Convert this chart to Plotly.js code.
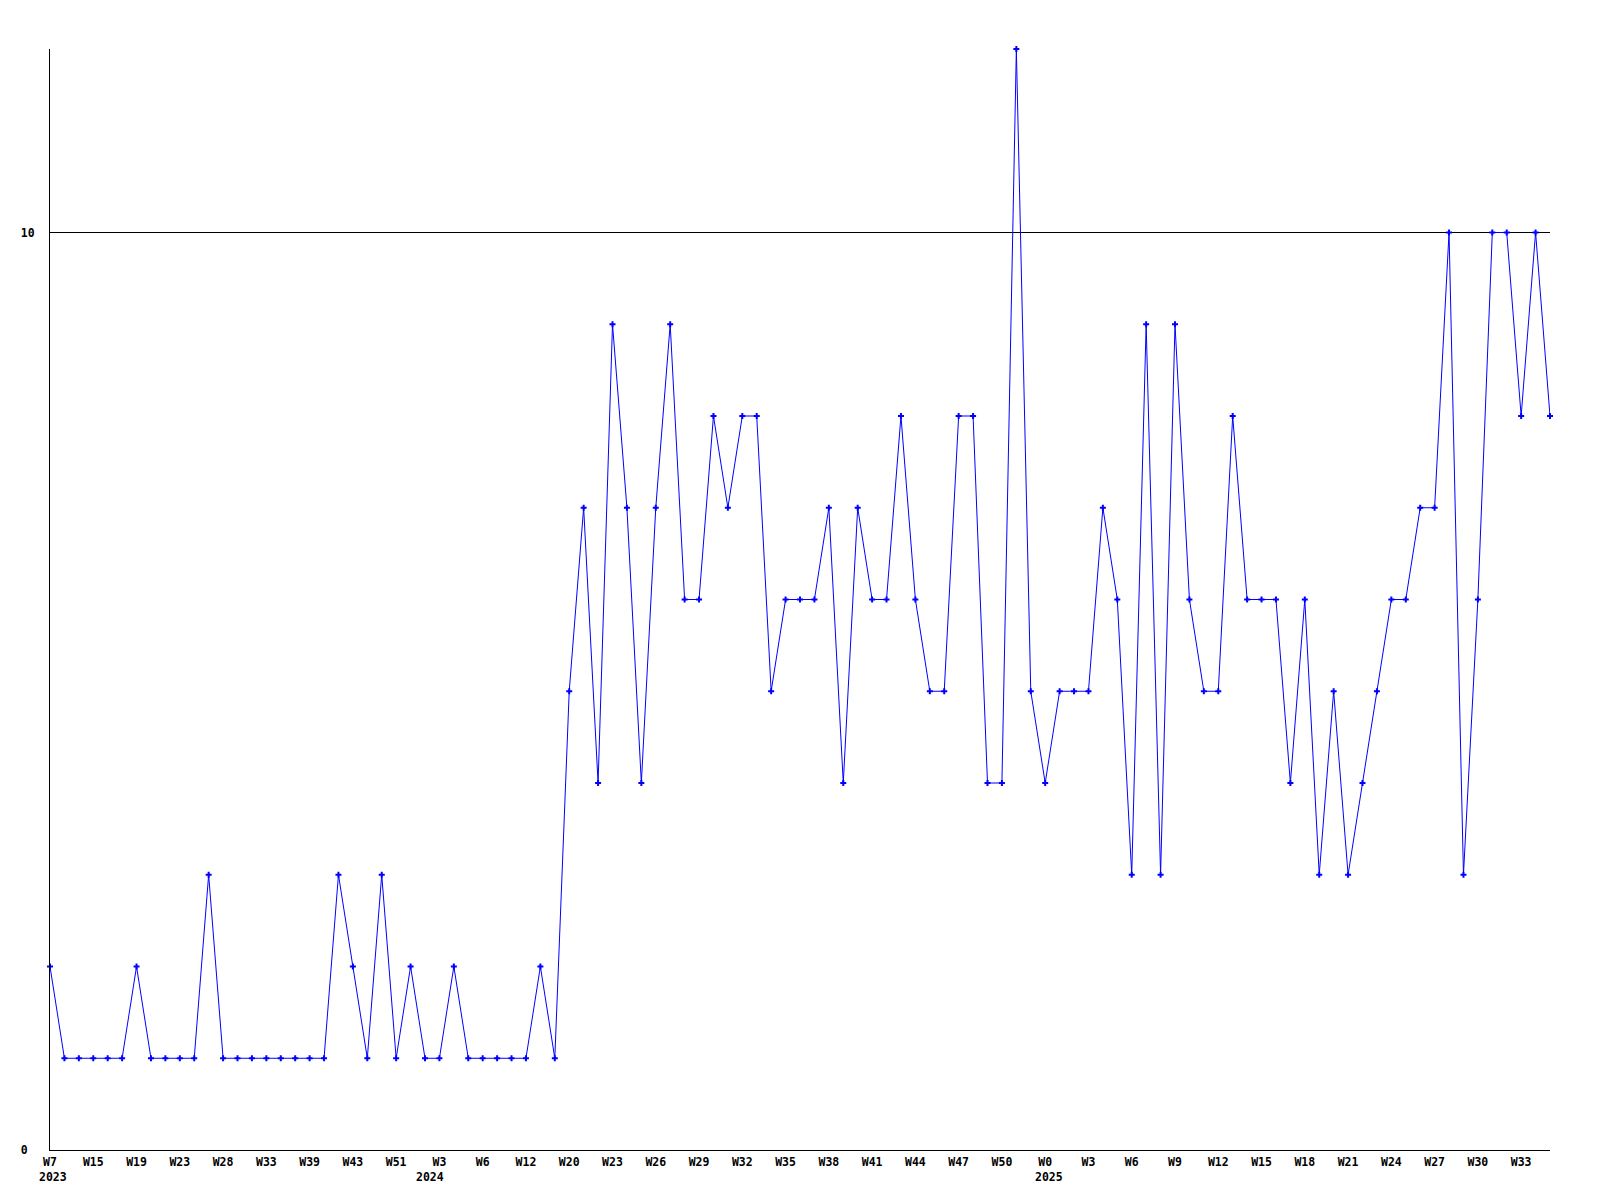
<!DOCTYPE html>
<html>
<head>
<meta charset="utf-8">
<script src="https://cdn.plot.ly/plotly-3.0.1.min.js"></script>
<style>
  html, body { margin: 0; padding: 0; background: #ffffff; }
  #chart { width: 1600px; height: 1200px; }
</style>
</head>
<body>
<div id="chart"></div>
<script>
// ---- data ----
const weeks2023 = [7, 9, 12, 15, 16, 17, 19, 20, 21, 23, 25, 26, 28, 29, 31, 33, 35, 37, 39, 40, 41, 43, 45, 48, 51, 52];
const weeks2024 = [1, 3, 4, 5, 6, 8, 10, 12, 14, 17, 20, 21, 22, 23, 24, 25, 26, 27, 28, 29, 30, 31, 32, 33, 34, 35, 36, 37, 38, 39, 40, 41, 42, 43, 44, 45, 46, 47, 48, 49, 50, 51, 52];
const weeks2025 = [0, 1, 2, 3, 4, 5, 6, 7, 8, 9, 10, 11, 12, 13, 14, 15, 16, 17, 18, 19, 20, 21, 22, 23, 24, 25, 26, 27, 28, 29, 30, 31, 32, 33, 34, 35];

const values2023 = [2, 1, 1, 1, 1, 1, 2, 1, 1, 1, 1, 3, 1, 1, 1, 1, 1, 1, 1, 1, 3, 2, 1, 3, 1, 2];
const values2024 = [1, 1, 2, 1, 1, 1, 1, 1, 2, 1, 5, 7, 4, 9, 7, 4, 7, 9, 6, 6, 8, 7, 8, 8, 5, 6, 6, 6, 7, 4, 7, 6, 6, 8, 6, 5, 5, 8, 8, 4, 4, 12, 5];
const values2025 = [4, 5, 5, 5, 7, 6, 3, 9, 3, 9, 6, 5, 5, 8, 6, 6, 6, 4, 6, 3, 5, 3, 4, 5, 6, 6, 7, 7, 10, 3, 6, 10, 10, 8, 10, 8];

const yTickValues = [0, 10];
const yTickLabels = ['0\u00a0', '10'];
const tickEvery = 3;

// ---- build series ----
const years = [], weeks = [], values = [];
[[2023, weeks2023, values2023], [2024, weeks2024, values2024], [2025, weeks2025, values2025]].forEach(([yr, wk, vals]) => {
  wk.forEach((w, i) => { years.push(yr); weeks.push(w); values.push(vals[i]); });
});
const cats = weeks.map((w, i) => years[i] + '-W' + w);

const tickvals = [], ticktext = [];
const yearFirstTick = {};
cats.forEach((c, i) => {
  if (i % tickEvery === 0) {
    tickvals.push(c);
    ticktext.push('W' + weeks[i]);
    if (!(years[i] in yearFirstTick)) yearFirstTick[years[i]] = c;
  }
});

const yearAnchor = {2023: 'left', 2024: 'right', 2025: 'left'};
const yearShift = {2023: -13, 2024: 7, 2025: -12};
const labelFont = {family: 'DejaVu Sans Mono', size: 11.5, color: '#000000', weight: 'bold'};

const annotations = Object.keys(yearFirstTick).map(yr => ({
  x: yearFirstTick[yr], xref: 'x',
  y: 0, yref: 'paper', yanchor: 'top',
  xanchor: yearAnchor[yr],
  xshift: yearShift[yr],
  yshift: -18,
  text: String(yr), showarrow: false,
  font: labelFont
}));

const trace = {
  x: cats, y: values,
  type: 'scatter', mode: 'lines+markers',
  line: {color: '#0000ff', width: 1},
  marker: {symbol: 'cross', size: 5, color: '#0000ff', line: {width: 0}},
  cliponaxis: false,
  hoverinfo: 'skip'
};

const layout = {
  width: 1600, height: 1200,
  margin: {l: 50, r: 50, t: 49, b: 50, pad: 0},
  paper_bgcolor: '#ffffff', plot_bgcolor: '#ffffff',
  showlegend: false,
  xaxis: {
    type: 'category', range: [0, cats.length - 1],
    tickmode: 'array', tickvals: tickvals, ticktext: ticktext,
    ticks: '', showgrid: false, zeroline: false,
    showline: true, linecolor: '#000000', linewidth: 1,
    tickfont: labelFont, ticklabelstandoff: 1
  },
  yaxis: {
    range: [0, 12],
    tickmode: 'array', tickvals: yTickValues, ticktext: yTickLabels,
    ticks: '', showgrid: true, gridcolor: '#000000', gridwidth: 1,
    zeroline: false, showline: true, linecolor: '#000000', linewidth: 1,
    tickfont: labelFont, ticklabelstandoff: 12
  },
  annotations: annotations
};

Plotly.newPlot('chart', [trace], layout, {staticPlot: true, displayModeBar: false});
</script>
</body>
</html>
